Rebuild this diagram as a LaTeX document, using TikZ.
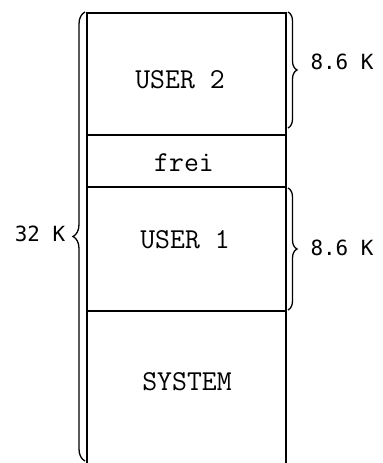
\documentclass[tikz,border=0pt]{standalone}
\usepackage{fontspec}
\newfontfamily\labfont{DejaVu Sans Mono}
\usetikzlibrary{decorations.pathreplacing}
\begin{document}
\begin{tikzpicture}[x=1bp,y=1bp,
  boxline/.style={line width=1.3bp, black},
  bracestyle/.style={line width=1.3bp, decorate, decoration={brace, amplitude=#1}},
  boxtext/.style={inner sep=0pt, font=\ttfamily\fontsize{29}{32}\selectfont},
  labtext/.style={inner sep=0pt, font=\labfont\fontsize{21}{24}\selectfont}]
\useasboundingbox (0,0) rectangle (382,463);
% box corners and dividers (y measured upward: 463 - y_ref)
\coordinate (tl) at (87,450);
\coordinate (tr) at (286,450);
\coordinate (bl) at (87,0);
\coordinate (br) at (286,0);
\coordinate (d1l) at (87,328);
\coordinate (d1r) at (286,328);
\coordinate (d2l) at (87,276);
\coordinate (d2r) at (286,276);
\coordinate (d3l) at (87,152);
\coordinate (d3r) at (286,152);
\draw[boxline] (bl) -- (tl) -- (tr) -- (br);
\draw[boxline] (d1l) -- (d1r);
\draw[boxline] (d2l) -- (d2r);
\draw[boxline] (d3l) -- (d3r);
% labels inside
\node[boxtext] (user2) at (180,383) {USER 2};
\node[boxtext] (frei) at (184,300) {frei};
\node[boxtext] (user1) at (185,223) {USER 1};
\node[boxtext] (system) at (187,81) {SYSTEM};
% braces
\coordinate (b1t) at (288,451);
\coordinate (b1b) at (288,335);
\coordinate (b2t) at (288,275);
\coordinate (b2b) at (288,153);
\coordinate (b3b) at (85,2);
\coordinate (b3t) at (85,451);
\draw[bracestyle=9bp] (b1t) -- (b1b);
\draw[bracestyle=9bp] (b2t) -- (b2b);
\draw[bracestyle=12bp] (b3b) -- (b3t);
% outer labels
\node[labtext] (k1) at (342,401) {8.6 K};
\node[labtext] (k2) at (342,215) {8.6 K};
\node[labtext] (k3) at (40,229) {32 K};
\end{tikzpicture}
\end{document}
